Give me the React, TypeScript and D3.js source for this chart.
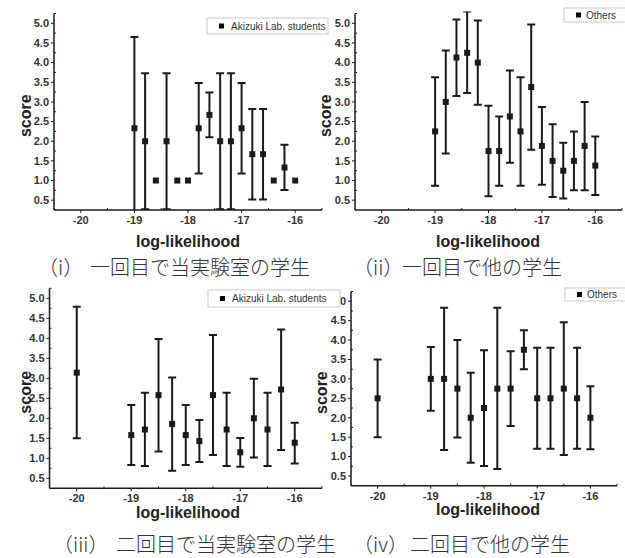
import React from "react";
import * as d3 from "d3";

// x positions (log-likelihood bins)
const xFirst = [-19, -18.8, -18.6, -18.4, -18.2, -18, -17.8, -17.6, -17.4, -17.2, -17, -16.8, -16.6, -16.4, -16.2, -16];
const xSecond = [-20, -19, -18.75, -18.5, -18.25, -18, -17.75, -17.5, -17.25, -17, -16.75, -16.5, -16.25, -16];

// (i) first round, Akizuki Lab. students
const mean1 = [2.33, 2.0, 1.0, 2.0, 1.0, 1.0, 2.33, 2.67, 2.0, 2.0, 2.33, 1.67, 1.67, 1.0, 1.33, 1.0];
const low1 = [0.02, 0.27, null, 0.27, null, null, 1.18, 2.1, 0.27, 0.27, 1.18, 0.52, 0.52, null, 0.76, null];
const high1 = [4.65, 3.73, null, 3.73, null, null, 3.48, 3.24, 3.73, 3.73, 3.48, 2.82, 2.82, null, 1.91, null];

// (ii) first round, others
const mean2 = [2.25, 3.0, 4.13, 4.25, 4.0, 1.75, 1.75, 2.63, 2.25, 3.38, 1.88, 1.5, 1.25, 1.5, 1.88, 1.38];
const low2 = [0.87, 1.69, 3.15, 3.23, 2.93, 0.6, 0.87, 1.45, 0.87, 1.78, 0.89, 0.58, 0.54, 0.75, 0.75, 0.63];
const high2 = [3.63, 4.31, 5.1, 5.3, 5.07, 2.9, 2.63, 3.8, 3.63, 4.97, 2.87, 2.43, 1.96, 2.25, 3.0, 2.12];

// (iii) second round, Akizuki Lab. students
const mean3 = [3.14, 1.58, 1.72, 2.58, 1.86, 1.58, 1.43, 2.58, 1.72, 1.15, 2.0, 1.72, 2.72, 1.39];
const low3 = [1.5, 0.83, 0.81, 1.17, 0.69, 0.83, 0.91, 1.08, 0.81, 0.79, 1.02, 0.81, 1.21, 0.87];
const high3 = [4.79, 2.33, 2.64, 3.98, 3.02, 2.33, 1.96, 4.08, 2.64, 1.51, 2.99, 2.64, 4.22, 1.89];

// (iv) second round, others
const mean4 = [2.5, 3.0, 3.0, 2.75, 2.0, 2.25, 2.75, 2.75, 3.75, 2.5, 2.5, 2.75, 2.5, 2.0];
const low4 = [1.5, 2.18, 1.17, 1.49, 0.84, 0.76, 0.68, 1.79, 3.25, 1.2, 1.2, 1.04, 1.2, 1.19];
const high4 = [3.5, 3.82, 4.83, 4.0, 3.16, 3.74, 4.83, 3.71, 4.25, 3.8, 3.8, 4.46, 3.8, 2.81];

const xTicks = [-20, -19, -18, -17, -16];
const yTicks = [0.5, 1.0, 1.5, 2.0, 2.5, 3.0, 3.5, 4.0, 4.5, 5.0];
const xDomain = [-20.5, -15.5];
const yDomain = [0.25, 5.25];

const capPrefix = ["（i）", "（ii）", "（iii）", "（iv）"];
const capBody = ["一回目で当実験室の学生", "一回目で他の学生", "二回目で当実験室の学生", "二回目で他の学生"];
const legendLabels = ["Akizuki Lab. students", "Others", "Akizuki Lab. students", "Others"];

// layout of each panel in page pixels
const panels = [
  { x: xFirst, mean: mean1, low: low1, high: high1, left: 54, right: 322, top: 13.5, bottom: 210,
    xLab: 188, xLabY: 247, yLabX: 25, capX: 38, bodyX: 90, capY: 275, leg: [207, 18, 121, 16] },
  { x: xFirst, mean: mean2, low: low2, high: high2, left: 355, right: 622, top: 13.5, bottom: 210,
    xLab: 488, xLabY: 247, yLabX: 325, capX: 353, bodyX: 402, capY: 275, leg: [564, 8, 70, 14] },
  { x: xSecond, mean: mean3, low: low3, high: high3, left: 49.5, right: 322, top: 288.3, bottom: 488.3,
    xLab: 188, xLabY: 518, yLabX: 25, capX: 53, bodyX: 116, capY: 552, leg: [208, 290, 132, 17] },
  { x: xSecond, mean: mean4, low: low4, high: high4, left: 351, right: 617, top: 291.5, bottom: 485.7,
    xLab: 488, xLabY: 515, yLabX: 321, capX: 353, bodyX: 410, capY: 552, leg: [565, 288, 70, 13] },
];

const ink = "#1a1a1a";
const sans = "'Liberation Sans', Arial, sans-serif";
const cjk = "'Noto Sans CJK JP', sans-serif";

function Panel({ p, i }: { p: any; i: number }) {
  const xs = d3.scaleLinear().domain(xDomain).range([p.left, p.right]);
  const ys = d3.scaleLinear().domain(yDomain).range([p.bottom, p.top]);
  const minorX = d3.range(-20.5, -15.4, 0.5).filter((v) => !xTicks.includes(v));
  const minorY = d3.range(0.75, 5.26, 0.5);
  const clipId = `clip${i}`;
  const cap = 4;
  return (
    <g>
      <defs>
        <clipPath id={clipId}>
          <rect x={p.left} y={p.top - 2} width={p.right - p.left} height={p.bottom - p.top + 2} />
        </clipPath>
      </defs>
      {/* axes */}
      <line x1={p.left} x2={p.left} y1={p.top} y2={p.bottom} stroke={ink} strokeWidth={1.5} />
      <line x1={p.left} x2={p.right} y1={p.bottom} y2={p.bottom} stroke={ink} strokeWidth={1.5} />
      {yTicks.map((t) => (
        <g key={"y" + t}>
          <line x1={p.left - 3} x2={p.left} y1={ys(t)} y2={ys(t)} stroke={ink} strokeWidth={1} />
          <text x={p.left - 5} y={ys(t)} dy="0.35em" textAnchor="end" fontSize={11} fontWeight="bold"
            fontFamily={sans} fill="#333">{t.toFixed(1)}</text>
        </g>
      ))}
      {minorY.map((t) => (
        <line key={"my" + t} x1={p.left} x2={p.left + 2} y1={ys(t)} y2={ys(t)} stroke={ink} strokeWidth={1} />
      ))}
      {xTicks.map((t) => (
        <g key={"x" + t}>
          <line x1={xs(t)} x2={xs(t)} y1={p.bottom} y2={p.bottom + 3} stroke={ink} strokeWidth={1} />
          <text x={xs(t)} y={p.bottom + 14} textAnchor="middle" fontSize={11} fontWeight="bold"
            fontFamily={sans} fill="#333">{t}</text>
        </g>
      ))}
      {minorX.map((t) => (
        <line key={"mx" + t} x1={xs(t)} x2={xs(t)} y1={p.bottom} y2={p.bottom - 2} stroke={ink} strokeWidth={1} />
      ))}
      {/* axis titles */}
      <text x={p.xLab} y={p.xLabY} textAnchor="middle" fontSize={16} fontWeight="bold" fontFamily={sans}
        fill="#222">log-likelihood</text>
      <text transform={`translate(${p.yLabX},${(p.top + p.bottom) / 2 + 4}) rotate(-90)`} dy="0.35em"
        textAnchor="middle" fontSize={16} fontWeight="bold" fontFamily={sans} fill="#222">score</text>
      {/* error bars + points */}
      <g clipPath={`url(#${clipId})`}>
        {p.x.map((xv: number, k: number) => {
          const cx = xs(xv);
          const lo = p.low[k];
          const hi = p.high[k];
          return (
            <g key={k}>
              {lo != null && hi != null && (
                <g stroke={ink} strokeWidth={2}>
                  <line x1={cx} x2={cx} y1={ys(lo)} y2={ys(hi)} />
                  <line x1={cx - cap} x2={cx + cap} y1={ys(lo)} y2={ys(lo)} />
                  <line x1={cx - cap} x2={cx + cap} y1={ys(hi)} y2={ys(hi)} />
                </g>
              )}
              <rect x={cx - 3} y={ys(p.mean[k]) - 3} width={6} height={6} fill={ink} />
            </g>
          );
        })}
      </g>
      {/* caption */}
      <text x={p.capX} y={p.capY} fontSize={20} fontWeight={300} fontFamily={cjk} fill="#333">{capPrefix[i]}</text>
      <text x={p.bodyX} y={p.capY} fontSize={20} fontWeight={300} fontFamily={cjk} fill="#333">{capBody[i]}</text>
    </g>
  );
}

function Legend({ p, i }: { p: any; i: number }) {
  const [lx, ly, lw, lh] = p.leg;
  return (
    <g>
      <rect x={lx} y={ly} width={lw} height={lh} fill="#fff" stroke="#c8c8c8" strokeWidth={1} />
      <rect x={lx + 12} y={ly + lh / 2 - 2.5} width={5} height={5} fill="#000" />
      <text x={lx + (i % 2 === 0 ? 24 : 22)} y={ly + lh / 2} dy="0.35em" fontSize={10} fontFamily={sans}
        fill="#333">{legendLabels[i]}</text>
    </g>
  );
}

export default function App() {
  return (
    <svg width={625} height={558} style={{ position: "absolute", left: 0, top: 0, background: "#fff" }}>
      <rect width={625} height={558} fill="#fff" />
      {panels.map((p, i) => <Panel key={i} p={p} i={i} />)}
      {panels.map((p, i) => <Legend key={"l" + i} p={p} i={i} />)}
    </svg>
  );
}
